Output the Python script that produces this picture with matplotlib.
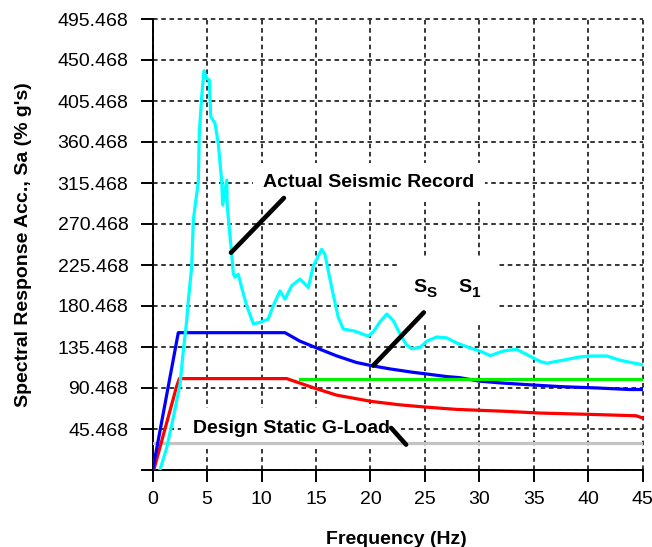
import matplotlib
matplotlib.use("Agg")
import matplotlib.pyplot as plt
from matplotlib.patches import Rectangle
from matplotlib.transforms import offset_copy

plt.rcParams['font.family'] = ['Liberation Sans', 'DejaVu Sans']

# ---------------- data ----------------
# Actual seismic record (cyan)
record_f = [0.67, 1.29, 1.89, 2.51, 2.81, 3.12, 3.27, 3.58, 3.73, 4.19,
            4.28, 4.50, 4.71, 4.96, 5.20, 5.33, 5.72, 6.02, 6.34, 6.43,
            6.80, 6.85, 7.25, 7.40, 7.56, 7.86, 8.17, 8.63, 9.24, 9.85,
            10.6, 11.07, 11.69, 12.15, 12.76, 13.53, 13.99, 14.29, 14.75, 15.52,
            15.82, 16.44, 17.04, 17.5, 17.8, 18.5, 19.0, 19.8, 20.3, 20.9,
            21.5, 22.1, 22.7, 23.3, 23.8, 24.55, 25.2, 26.1, 27.0, 27.9,
            29.1, 30.05, 31.0, 32.2, 33.4, 34.3, 35.6, 36.2, 37.7, 39.2,
            40.2, 41.7, 42.9, 44.4, 45.0]
record_sa = [0.5, 25, 58, 94.8, 131, 164, 186, 223.6, 274.8, 316.9,
             370, 410.2, 438.7, 430.4, 428.5, 388.3, 381, 359, 316.9, 291.3,
             318.7, 289.4, 238.3, 216.3, 212, 215.4, 200.7, 180.9, 160.9, 162.5,
             166, 180.8, 197, 188, 202.6, 210, 204.4, 200.7, 224.4, 242.7,
             237, 200.7, 168, 155.2, 154.6, 153, 151, 147.3, 152.7, 163.5,
             171.6, 164.3, 150, 138, 133.5, 135, 142, 146.5, 145.5, 140,
             134.7, 131, 126, 131, 133, 127.5, 119.5, 117.7, 121, 124.5,
             125.6, 125.6, 121, 117.3, 116]

# S_S design spectrum (blue)
ss_f = [0, 2.35, 12.15, 13.5, 15.0, 16.9, 18.7, 20.1, 21.8, 23.9,
        25.07, 27.0, 28.2, 30.0, 32.0, 34.6, 37.4, 40.8, 43.8, 45.0]
ss_sa = [0.5, 151.2, 151.2, 142, 134.7, 125.7, 118.5, 115, 111.4, 107.7,
         106, 103, 101.8, 98, 96, 94, 92, 90.5, 88.8, 88.8]

# S_1 design spectrum (red)
s1_f = [0.1, 2.2, 2.45, 12.3, 15.0, 16.9, 20.05, 22.7, 25.07, 27.9,
        30.0, 32.2, 35.5, 40.2, 44.4, 45.0]
s1_sa = [0.5, 92.4, 100.8, 100.8, 89.8, 82.6, 75.8, 72, 69.5, 67,
         66, 65, 63, 61.5, 60, 57.5]

# Green reference level
green_f = [13.5, 45.0]
green_sa = [100.2, 100.2]

# Design static G-load (gray)
gload_f = [0.0, 45.0]
gload_sa = [30.2, 30.2]

# axis ticks
x_ticks = [0, 5, 10, 15, 20, 25, 30, 35, 40, 45]
y_ticks = [0.468, 45.468, 90.468, 135.468, 180.468, 225.468, 270.468,
           315.468, 360.468, 405.468, 450.468, 495.468]
y_ticklabels = [''] + ['%.3f' % v for v in y_ticks[1:]]

# annotation labels and pointer segments (data coords)
label_record = "Actual Seismic Record"
label_gload = "Design Static G-Load"
s_labels = [("S", "S", 23.9), ("S", "1", 28.03)]
s_label_sa = 196.1
s_label_box = (22.4, 163.2, 9.3, 69.1)   # x0, y0, width, height of label background
record_ptr = ([7.19, 12.05], [239.0, 299.0])
s_ptr = ([20.25, 24.9], [115.1, 173.4])
gload_ptr = ([21.9, 23.27], [46.6, 28.3])

# ---------------- figure ----------------
W, H = 652, 547
fig = plt.figure(figsize=(W / 100, H / 100), dpi=100)
ax = fig.add_axes([152.7 / W, 1 - 470 / H, 490 / W, 451 / H])

ax.set_xlim(0, 45)
ax.set_ylim(0.468, 495.468)

ax.set_xticks(x_ticks)
ax.set_xticklabels([str(t) for t in x_ticks])
ax.set_yticks(y_ticks)
ax.set_yticklabels(y_ticklabels)

ax.tick_params(axis='both', direction='out', length=8.6, width=1.4,
               labelsize=14, colors='black')
ax.tick_params(axis='y', pad=9)
ax.tick_params(axis='x', pad=6.6)

for s in ['top', 'right']:
    ax.spines[s].set_visible(False)
for s in ['left', 'bottom']:
    ax.spines[s].set_linewidth(1.4)
    ax.spines[s].set_color('black')

ax.set_axisbelow(True)
ax.grid(True, color='black', linestyle=(0, (3.0, 2.4)), linewidth=1.1)
for gl in ax.get_xgridlines() + ax.get_ygridlines():
    gl.set_clip_on(False)

lw = 2.3
ax.plot(gload_f, gload_sa, color='#c4c4c4', lw=lw, zorder=3)
ax.plot(s1_f, s1_sa, color='#ff0000', lw=lw, zorder=3)
ax.plot(ss_f, ss_sa, color='#0000ff', lw=lw, zorder=3)
ax.plot(green_f, green_sa, color='#00f000', lw=lw, zorder=3)
ax.plot(record_f, record_sa, color='#00ffff', lw=lw, zorder=3.2)

box = dict(facecolor='white', edgecolor='none')
ax.text(10.16, 310.9, label_record, fontsize=14, fontweight='bold',
        ha='left', va='baseline', zorder=2.6,
        bbox=dict(box, boxstyle='square,pad=0.55'))
ax.text(3.67, 41.1, label_gload, fontsize=14, fontweight='bold',
        ha='left', va='baseline', zorder=2.6,
        bbox=dict(box, boxstyle='square,pad=0.6'))

# white background box behind the S_S / S_1 labels
bx, by, bw, bh = s_label_box
ax.add_patch(Rectangle((bx, by), bw, bh, facecolor='white', edgecolor='none',
                       zorder=2.5))
sub_tr = offset_copy(ax.transData, fig=fig, x=14, y=-5, units='dots')
for main, sub, fx in s_labels:
    ax.text(fx, s_label_sa, main, fontsize=14, fontweight='bold',
            ha='left', va='baseline', zorder=2.7)
    ax.text(fx, s_label_sa, sub, fontsize=11, fontweight='bold',
            ha='left', va='baseline', zorder=2.7, transform=sub_tr)

for px, py in (record_ptr, s_ptr, gload_ptr):
    ax.plot(px, py, color='black', lw=3.3, solid_capstyle='round', zorder=4)

ax.set_xlabel("Frequency (Hz)", fontsize=14, fontweight='bold')
ax.xaxis.set_label_coords(0.498, (470 - 544) / 451)
ax.xaxis.label.set_va('baseline')
ax.set_ylabel("Spectral Response Acc., Sa (% g's)", fontsize=14, fontweight='bold')
ax.yaxis.set_label_coords((23.3 - 152.7) / 490, 0.5)
ax.yaxis.label.set_va('center')

fig.savefig("out.png", dpi=100)
